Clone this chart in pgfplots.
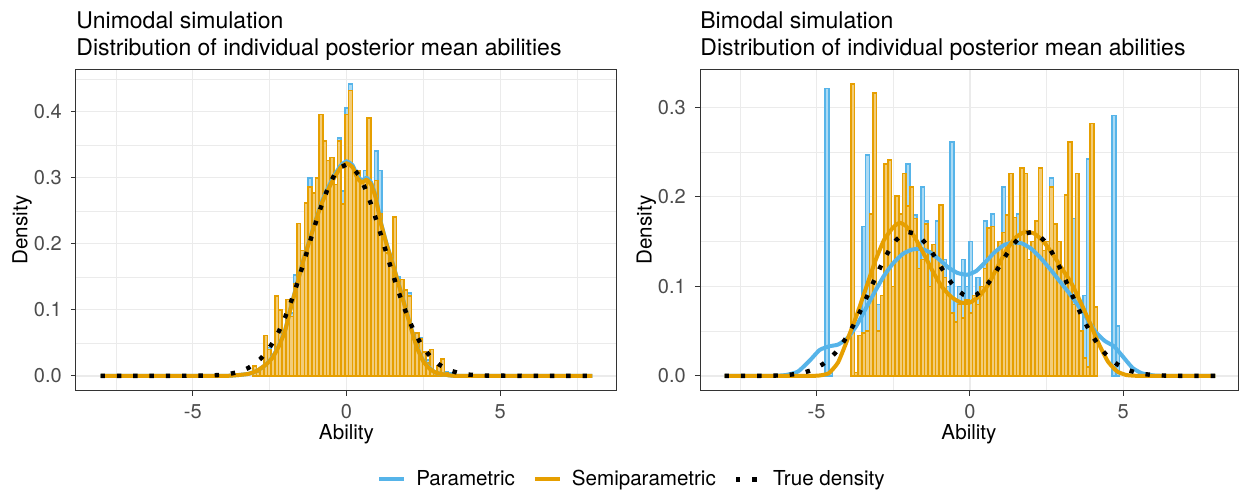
\documentclass[border=0pt]{standalone}
\usepackage{pgfplots}
\pgfplotsset{compat=1.18}
\usepackage{pgfplotstable}
\usepackage{fontspec}
\setmainfont{TeX Gyre Heros}
\definecolor{pblue}{HTML}{56B4E9}
\definecolor{porange}{HTML}{E69F00}
\definecolor{pbluefill}{HTML}{ABDAF4}
\definecolor{porangefill}{HTML}{F3CC78}
\definecolor{gridc}{gray}{0.92}
\definecolor{grey20}{gray}{0.2}
\definecolor{grey30}{gray}{0.3}

% ---------- Unimodal: histograms (bin centre, density) ----------
\pgfplotstableread{
x y
-2.99 0.015
-2.87 0.006
-2.75 0.010
-2.63 0.061
-2.51 0.040
-2.39 0.027
-2.27 0.121
-2.15 0.100
-2.03 0.065
-1.91 0.116
-1.79 0.090
-1.67 0.140
-1.55 0.231
-1.43 0.190
-1.31 0.262
-1.19 0.286
-1.07 0.277
-0.95 0.300
-0.83 0.396
-0.71 0.356
-0.59 0.326
-0.47 0.331
-0.35 0.290
-0.23 0.356
-0.11 0.260
0.01 0.396
0.13 0.432
0.25 0.311
0.37 0.311
0.49 0.296
0.61 0.300
0.73 0.391
0.85 0.290
0.97 0.296
1.09 0.246
1.21 0.216
1.33 0.186
1.45 0.170
1.57 0.241
1.69 0.146
1.81 0.146
1.93 0.130
2.05 0.121
2.17 0.056
2.29 0.065
2.41 0.056
2.53 0.036
2.65 0.020
2.77 0.040
2.89 0.006
3.01 0.015
3.13 0.026
3.25 0.005
}\uniorange
\pgfplotstableread{
x y
-2.99 0.012
-2.87 0.004
-2.75 0.010
-2.63 0.058
-2.51 0.043
-2.39 0.025
-2.27 0.118
-2.15 0.098
-2.03 0.063
-1.91 0.112
-1.79 0.095
-1.67 0.153
-1.55 0.226
-1.43 0.188
-1.31 0.258
-1.19 0.300
-1.07 0.272
-0.95 0.296
-0.83 0.390
-0.71 0.350
-0.59 0.322
-0.47 0.326
-0.35 0.286
-0.23 0.360
-0.11 0.280
0.01 0.406
0.13 0.442
0.25 0.306
0.37 0.305
0.49 0.292
0.61 0.311
0.73 0.386
0.85 0.286
0.97 0.341
1.09 0.311
1.21 0.212
1.33 0.182
1.45 0.166
1.57 0.236
1.69 0.150
1.81 0.142
1.93 0.128
2.05 0.126
2.17 0.054
2.29 0.062
2.41 0.058
2.53 0.034
2.65 0.024
2.77 0.038
2.89 0.008
3.01 0.013
3.13 0.024
3.25 0.006
3.37 0.004
}\uniblue

% ---------- Bimodal: histograms ----------
\pgfplotstableread{
x y
-3.82 0.326
-3.70 0.004
-3.58 0.045
-3.46 0.048
-3.34 0.050
-3.22 0.181
-3.10 0.316
-2.98 0.050
-2.86 0.090
-2.74 0.237
-2.62 0.241
-2.50 0.100
-2.38 0.201
-2.26 0.181
-2.14 0.226
-2.02 0.190
-1.90 0.211
-1.78 0.176
-1.66 0.120
-1.54 0.130
-1.42 0.170
-1.30 0.100
-1.18 0.147
-1.06 0.130
-0.94 0.191
-0.82 0.110
-0.70 0.090
-0.58 0.070
-0.46 0.060
-0.34 0.080
-0.22 0.065
-0.10 0.085
0.02 0.070
0.14 0.090
0.26 0.080
0.38 0.100
0.50 0.120
0.62 0.165
0.74 0.167
0.86 0.140
0.98 0.150
1.10 0.160
1.22 0.180
1.34 0.226
1.46 0.177
1.58 0.150
1.70 0.232
1.82 0.226
1.94 0.130
2.06 0.150
2.18 0.173
2.30 0.232
2.42 0.140
2.54 0.150
2.66 0.211
2.78 0.170
2.90 0.150
3.02 0.120
3.14 0.202
3.26 0.261
3.38 0.080
3.50 0.226
3.62 0.050
3.74 0.020
3.86 0.010
3.98 0.282
4.10 0.077
}\biorange
\pgfplotstableread{
x y
-4.66 0.321
-4.54 0.003
-3.46 0.167
-3.34 0.247
-3.22 0.050
-3.10 0.050
-2.98 0.080
-2.86 0.040
-2.74 0.050
-2.62 0.120
-2.50 0.090
-2.38 0.160
-2.26 0.140
-2.14 0.150
-2.02 0.237
-1.90 0.160
-1.78 0.180
-1.66 0.140
-1.54 0.211
-1.42 0.173
-1.30 0.140
-1.18 0.120
-1.06 0.173
-0.94 0.176
-0.82 0.130
-0.70 0.100
-0.58 0.261
-0.46 0.085
-0.34 0.100
-0.22 0.130
-0.10 0.100
0.02 0.150
0.14 0.090
0.26 0.110
0.38 0.080
0.50 0.173
0.62 0.160
0.74 0.181
0.86 0.130
0.98 0.120
1.10 0.211
1.22 0.150
1.34 0.170
1.46 0.160
1.58 0.181
1.70 0.140
1.82 0.150
1.94 0.120
2.06 0.130
2.18 0.120
2.30 0.100
2.42 0.120
2.54 0.110
2.66 0.221
2.78 0.120
2.90 0.100
3.02 0.090
3.14 0.077
3.26 0.060
3.38 0.176
3.50 0.050
3.62 0.040
3.74 0.090
3.86 0.242
3.98 0.010
4.70 0.291
4.82 0.056
}\biblue

\pgfplotsset{
  panel/.style={
    scale only axis, height=160.5pt,
    axis line style={grey20, line width=0.5pt},
    every tick/.style={grey20, line width=0.5pt},
    tick align=outside, major tick length=2.6pt, minor tick length=0pt,
    xtick pos=bottom, ytick pos=left,
    xtick={-5,0,5}, xticklabels={-5,0,5},
    minor xtick={-7.5,-2.5,2.5,7.5},
    grid=both,
    major grid style={gridc, line width=0.6pt},
    minor grid style={gridc, line width=0.3pt},
    ticklabel style={font=\fontsize{10}{12}\selectfont, text=grey30},
    xticklabel style={yshift=-1pt},
    yticklabel style={xshift=-1pt},
    label style={font=\fontsize{10.3}{12}\selectfont},
    xlabel={Ability}, ylabel={Density},
    xlabel style={at={(axis description cs:0.5,-0.137)}, anchor=center},
    ylabel style={at={(axis description cs:-0.0998,0.5)}, anchor=center},
  },
  hist/.style={ybar, bar width=0.12, bar shift=0pt, line width=0.8pt, forget plot},
  kde/.style={line width=2pt, smooth, tension=0.3},
  truth/.style={black, line width=2.2pt, dash pattern=on 2.2pt off 5.95pt, line cap=butt},
}

\begin{document}
\begin{tikzpicture}
\path[use as bounding box] (0,0) rectangle (619.5pt,-247pt);

\node[anchor=base west, font=\fontsize{11.5}{13.8}\selectfont, inner sep=0pt] at (38pt,-14pt) {Unimodal simulation};
\node[anchor=base west, font=\fontsize{11.5}{13.8}\selectfont, inner sep=0pt] at (38pt,-27.5pt) {Distribution of individual posterior mean abilities};
\node[anchor=base west, font=\fontsize{11.5}{13.8}\selectfont, inner sep=0pt] at (350pt,-14pt) {Bimodal simulation};
\node[anchor=base west, font=\fontsize{11.5}{13.8}\selectfont, inner sep=0pt] at (350pt,-27.5pt) {Distribution of individual posterior mean abilities};

% ---------------- left panel ----------------
\begin{axis}[panel, at={(38pt,-34.75pt)}, anchor=north west,
  width=270.5pt, xmin=-8.8, xmax=8.8, ymin=-0.0221, ymax=0.4641,
  ytick={0,0.1,0.2,0.3,0.4}, yticklabels={0.0,0.1,0.2,0.3,0.4},
  minor ytick={0.05,0.15,0.25,0.35,0.45},
  legend columns=3,
  legend style={at={(axis description cs:1.0296,-0.277)}, anchor=center, draw=none, fill=none,
    font=\fontsize{10.3}{12}\selectfont,
    /tikz/every odd column/.append style={column sep=3pt},
    /tikz/every even column/.append style={column sep=7pt}},
  legend image code/.code={\draw[#1] (0pt,0pt) -- (12.5pt,0pt);},
]
\addplot[hist, draw=pblue, fill=pbluefill] table[x=x,y=y]{\uniblue};
\addplot[hist, draw=porange, fill=porangefill] table[x=x,y=y]{\uniorange};
\addplot[kde, pblue] coordinates {(-8,0) (-6,0) (-4,0) (-3.6,0.001) (-3.2,0.003) (-2.9,0.008) (-2.6,0.018) (-2.4,0.029) (-2.2,0.046) (-2.0,0.069) (-1.8,0.106) (-1.6,0.141) (-1.4,0.176) (-1.2,0.206) (-1.0,0.236) (-0.8,0.264) (-0.6,0.285) (-0.4,0.303) (-0.2,0.318) (0,0.325) (0.2,0.319) (0.35,0.303) (0.5,0.296) (0.65,0.300) (0.8,0.293) (0.95,0.272) (1.1,0.236) (1.3,0.201) (1.5,0.171) (1.7,0.139) (1.9,0.106) (2.1,0.073) (2.3,0.043) (2.5,0.023) (2.7,0.012) (2.9,0.005) (3.2,0.002) (3.6,0) (6,0) (8,0)};
\addlegendentry{Parametric}
\addplot[kde, porange] coordinates {(-8,0) (-6,0) (-4,0) (-3.6,0.001) (-3.2,0.003) (-2.9,0.008) (-2.6,0.018) (-2.4,0.028) (-2.2,0.045) (-2.0,0.068) (-1.8,0.105) (-1.6,0.140) (-1.4,0.175) (-1.2,0.205) (-1.0,0.235) (-0.8,0.262) (-0.6,0.282) (-0.4,0.300) (-0.2,0.315) (0,0.322) (0.2,0.316) (0.35,0.300) (0.5,0.293) (0.65,0.297) (0.8,0.290) (0.95,0.270) (1.1,0.235) (1.3,0.200) (1.5,0.170) (1.7,0.138) (1.9,0.105) (2.1,0.072) (2.3,0.042) (2.5,0.022) (2.7,0.011) (2.9,0.005) (3.2,0.002) (3.6,0) (6,0) (8,0)};
\addlegendentry{Semiparametric}
\addplot[truth] coordinates {(-8,0) (-6,0) (-4.4,0.0006) (-4.0,0.0019) (-3.8,0.0031) (-3.6,0.005) (-3.4,0.0078) (-3.2,0.0119) (-3.0,0.0177) (-2.8,0.0257) (-2.6,0.0364) (-2.4,0.0502) (-2.2,0.0675) (-2.0,0.0884) (-1.8,0.1129) (-1.6,0.1405) (-1.4,0.1704) (-1.2,0.2014) (-1.0,0.232) (-0.8,0.260) (-0.6,0.285) (-0.4,0.304) (-0.2,0.3159) (0,0.32) (0.2,0.3159) (0.4,0.304) (0.6,0.285) (0.8,0.260) (1.0,0.232) (1.2,0.2014) (1.4,0.1704) (1.6,0.1405) (1.8,0.1129) (2.0,0.0884) (2.2,0.0675) (2.4,0.0502) (2.6,0.0364) (2.8,0.0257) (3.0,0.0177) (3.2,0.0119) (3.4,0.0078) (3.6,0.005) (3.8,0.0031) (4.0,0.0019) (4.4,0.0006) (6,0) (8,0)};
\addlegendentry{True density}
\end{axis}

% ---------------- right panel ----------------
\begin{axis}[panel, at={(350pt,-34.75pt)}, anchor=north west,
  width=269pt, xmin=-8.8, xmax=8.74, ymin=-0.0163, ymax=0.3423,
  ytick={0,0.1,0.2,0.3}, yticklabels={0.0,0.1,0.2,0.3},
  minor ytick={0.05,0.15,0.25},
]
\addplot[hist, draw=pblue, fill=pbluefill] table[x=x,y=y]{\biblue};
\addplot[hist, draw=porange, fill=porangefill] table[x=x,y=y]{\biorange};
\addplot[kde, pblue] coordinates {(-8,0) (-6.5,0) (-6.0,0.001) (-5.6,0.005) (-5.2,0.018) (-4.9,0.029) (-4.6,0.033) (-4.3,0.035) (-4.0,0.042) (-3.7,0.056) (-3.4,0.075) (-3.1,0.094) (-2.8,0.112) (-2.5,0.126) (-2.2,0.136) (-1.9,0.141) (-1.6,0.142) (-1.3,0.138) (-1.0,0.130) (-0.7,0.121) (-0.4,0.115) (-0.1,0.113) (0.2,0.117) (0.5,0.127) (0.8,0.138) (1.1,0.146) (1.4,0.149) (1.7,0.148) (2.0,0.142) (2.3,0.132) (2.6,0.120) (2.9,0.107) (3.2,0.094) (3.5,0.080) (3.8,0.065) (4.1,0.049) (4.4,0.039) (4.7,0.033) (5.0,0.021) (5.3,0.009) (5.6,0.003) (6.0,0.0005) (6.5,0) (8,0)};
\addplot[kde, porange] coordinates {(-8,0) (-6,0) (-5.2,0) (-4.9,0.0005) (-4.6,0.003) (-4.3,0.015) (-4.0,0.040) (-3.7,0.067) (-3.4,0.097) (-3.1,0.127) (-2.8,0.152) (-2.5,0.166) (-2.3,0.171) (-2.1,0.168) (-1.8,0.155) (-1.5,0.136) (-1.2,0.116) (-0.9,0.099) (-0.6,0.088) (-0.3,0.082) (0,0.082) (0.3,0.089) (0.6,0.102) (0.9,0.122) (1.2,0.141) (1.5,0.155) (1.8,0.161) (2.1,0.159) (2.4,0.150) (2.7,0.136) (3.0,0.120) (3.3,0.104) (3.6,0.083) (3.9,0.060) (4.2,0.036) (4.5,0.016) (4.8,0.005) (5.1,0.001) (5.5,0) (6,0) (8,0)};
\addplot[truth] coordinates {(-8,0) (-7,0.00005) (-6.4,0.0003) (-6.0,0.00095) (-5.8,0.0016) (-5.6,0.0025) (-5.4,0.0039) (-5.2,0.006) (-5.0,0.009) (-4.8,0.013) (-4.6,0.0184) (-4.4,0.0253) (-4.2,0.0339) (-4.0,0.0444) (-3.8,0.0566) (-3.6,0.0704) (-3.4,0.0852) (-3.2,0.1007) (-3.0,0.1159) (-2.8,0.1301) (-2.6,0.1425) (-2.4,0.1519) (-2.2,0.1581) (-2.0,0.1606) (-1.8,0.1591) (-1.6,0.1542) (-1.4,0.1462) (-1.2,0.1361) (-1.0,0.1248) (-0.8,0.1137) (-0.6,0.1036) (-0.4,0.0956) (-0.2,0.0905) (0,0.0888) (0.2,0.0905) (0.4,0.0956) (0.6,0.1036) (0.8,0.1137) (1.0,0.1248) (1.2,0.1361) (1.4,0.1462) (1.6,0.1542) (1.8,0.1591) (2.0,0.1606) (2.2,0.1581) (2.4,0.1519) (2.6,0.1425) (2.8,0.1301) (3.0,0.1159) (3.2,0.1007) (3.4,0.0852) (3.6,0.0704) (3.8,0.0566) (4.0,0.0444) (4.2,0.0339) (4.4,0.0253) (4.6,0.0184) (4.8,0.013) (5.0,0.009) (5.2,0.006) (5.4,0.0039) (5.6,0.0025) (5.8,0.0016) (6.0,0.00095) (6.4,0.0003) (7,0.00005) (8,0)};
\end{axis}
\end{tikzpicture}
\end{document}
